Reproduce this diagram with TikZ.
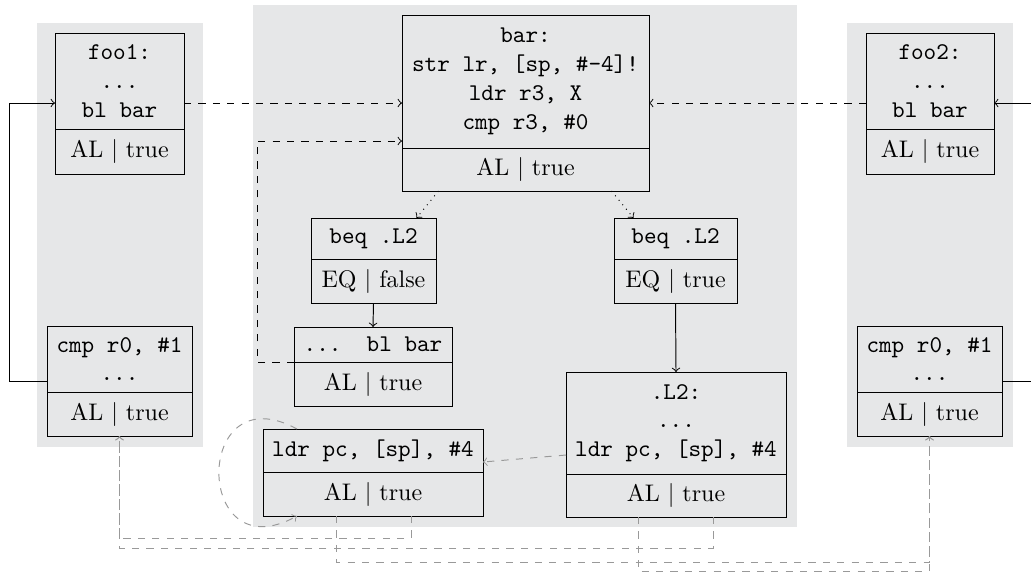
\documentclass[tikz,border=0pt]{standalone}
\usetikzlibrary{calc}
\definecolor{panel}{RGB}{230,231,232}
\tikzset{
  sz/.style 2 args={minimum width=#1*0.41667pt, minimum height=#2*0.41667pt},
  code/.style={draw, font=\ttfamily, align=center, inner sep=0pt, outer sep=0pt},
  cond/.style={draw, align=center, inner sep=0pt, outer sep=0pt},
  dep/.style={dashed, ->},
  gdep/.style={draw=black!40, dashed, ->},
  flow/.style={->},
  br/.style={dotted, ->},
  bg/.style={fill=panel, draw=none}
}
\begin{document}
\begin{tikzpicture}[x=0.41667pt, y=-0.41667pt]
\useasboundingbox (0,0) rectangle (1031,572);
% panels
\fill[bg] (37,23) rectangle (203,447);
\fill[bg] (253,5) rectangle (797,527);
\fill[bg] (847,23) rectangle (1013,447);
% nodes
\node[code, sz={129}{96}] (foo1) at (119.5,81) {foo1:\\...\\bl bar};
\node[cond, sz={129}{45}] (foo1c) at (119.5,151.5) {AL $|$ true};
\node[code, sz={247}{133}] (bar) at (525.5,81.5) {bar:\\str lr, [sp, \#-4]!\\ldr r3, X\\cmp r3, \#0};
\node[cond, sz={247}{43}] (barc) at (525.5,169.5) {AL $|$ true};
\node[code, sz={128}{96}] (foo2) at (930,81) {foo2:\\...\\bl bar};
\node[cond, sz={128}{45}] (foo2c) at (930,151.5) {AL $|$ true};
\node[code, sz={125}{41}] (beqL) at (373.5,238.5) {beq .L2};
\node[cond, sz={125}{44}] (beqLc) at (373.5,281) {EQ $|$ false};
\node[code, sz={123}{41}] (beqR) at (675.5,238.5) {beq .L2};
\node[cond, sz={123}{44}] (beqRc) at (675.5,281) {EQ $|$ true};
\node[code, sz={158}{35}] (blbar) at (373,344.5) {...~~bl bar};
\node[cond, sz={158}{44}] (blbarc) at (373,384) {AL $|$ true};
\node[code, sz={145}{66}] (cmpL) at (119.5,359) {cmp r0, \#1\\...};
\node[cond, sz={145}{44}] (cmpLc) at (119.5,414) {AL $|$ true};
\node[code, sz={145}{66}] (cmpR) at (929.5,359) {cmp r0, \#1\\...};
\node[cond, sz={145}{44}] (cmpRc) at (929.5,414) {AL $|$ true};
\node[code, sz={220}{102}] (L2) at (676,423) {.L2:\\...\\ldr pc, [sp], \#4};
\node[cond, sz={220}{43}] (L2c) at (676,495.5) {AL $|$ true};
\node[code, sz={220}{43}] (ldrL) at (373,450.5) {ldr pc, [sp], \#4};
\node[cond, sz={220}{44}] (ldrLc) at (373,494) {AL $|$ true};
% calls into bar
\draw[dep] ($(foo1.east)+(0,22)$) coordinate (a1) -- (a1 -| bar.west);
\draw[dep] ($(foo2.west)+(0,22)$) coordinate (a2) -- (a2 -| bar.east);
\coordinate (k1) at (257,141);
\draw[dep] (blbar.south west) -| (k1) -- (k1 -| bar.west);
% returns to callers (solid)
\coordinate (k2) at (9,103);
\draw[flow] ($(cmpL.west)+(0,22)$) -| (k2) -- ($(foo1.west)+(0,22)$);
\coordinate (k3) at (1045,103);
\draw[flow] ($(cmpR.east)+(0,22)$) -| (k3) -- ($(foo2.east)+(0,22)$);
% branches
\draw[br] ($(barc.south)+(-87,0)$) -- ($(beqL.north)+(43,0)$);
\draw[br] ($(barc.south)+(86,0)$) -- ($(beqR.north)+(-42,0)$);
\draw[flow] (beqLc.south) -- (blbar.north);
\draw[flow] (beqRc.south) -- (L2.north);
% gray dependencies
\draw[gdep] ($(L2.west)+(0,32)$) -- ($(ldrL.east)+(0,11.5)$);
\draw[gdep] ($(ldrL.north)+(-76,0)$) .. controls +(-104,-57) and +(-104,57) .. ($(ldrLc.south)+(-76,0)$);
\draw[gdep] ($(ldrLc.south)+(38,0)$) |- ($(cmpLc.south)+(0,102)$) -- (cmpLc.south);
\draw[gdep] ($(L2c.south)+(37,0)$) |- ($(cmpLc.south)+(0,112)$) -- (cmpLc.south);
\draw[gdep] ($(ldrLc.south)+(-37,0)$) |- ($(cmpRc.south)+(0,126)$) -- (cmpRc.south);
\draw[gdep] ($(L2c.south)+(-38,0)$) |- ($(cmpRc.south)+(0,135)$) -- (cmpRc.south);
\end{tikzpicture}
\end{document}
